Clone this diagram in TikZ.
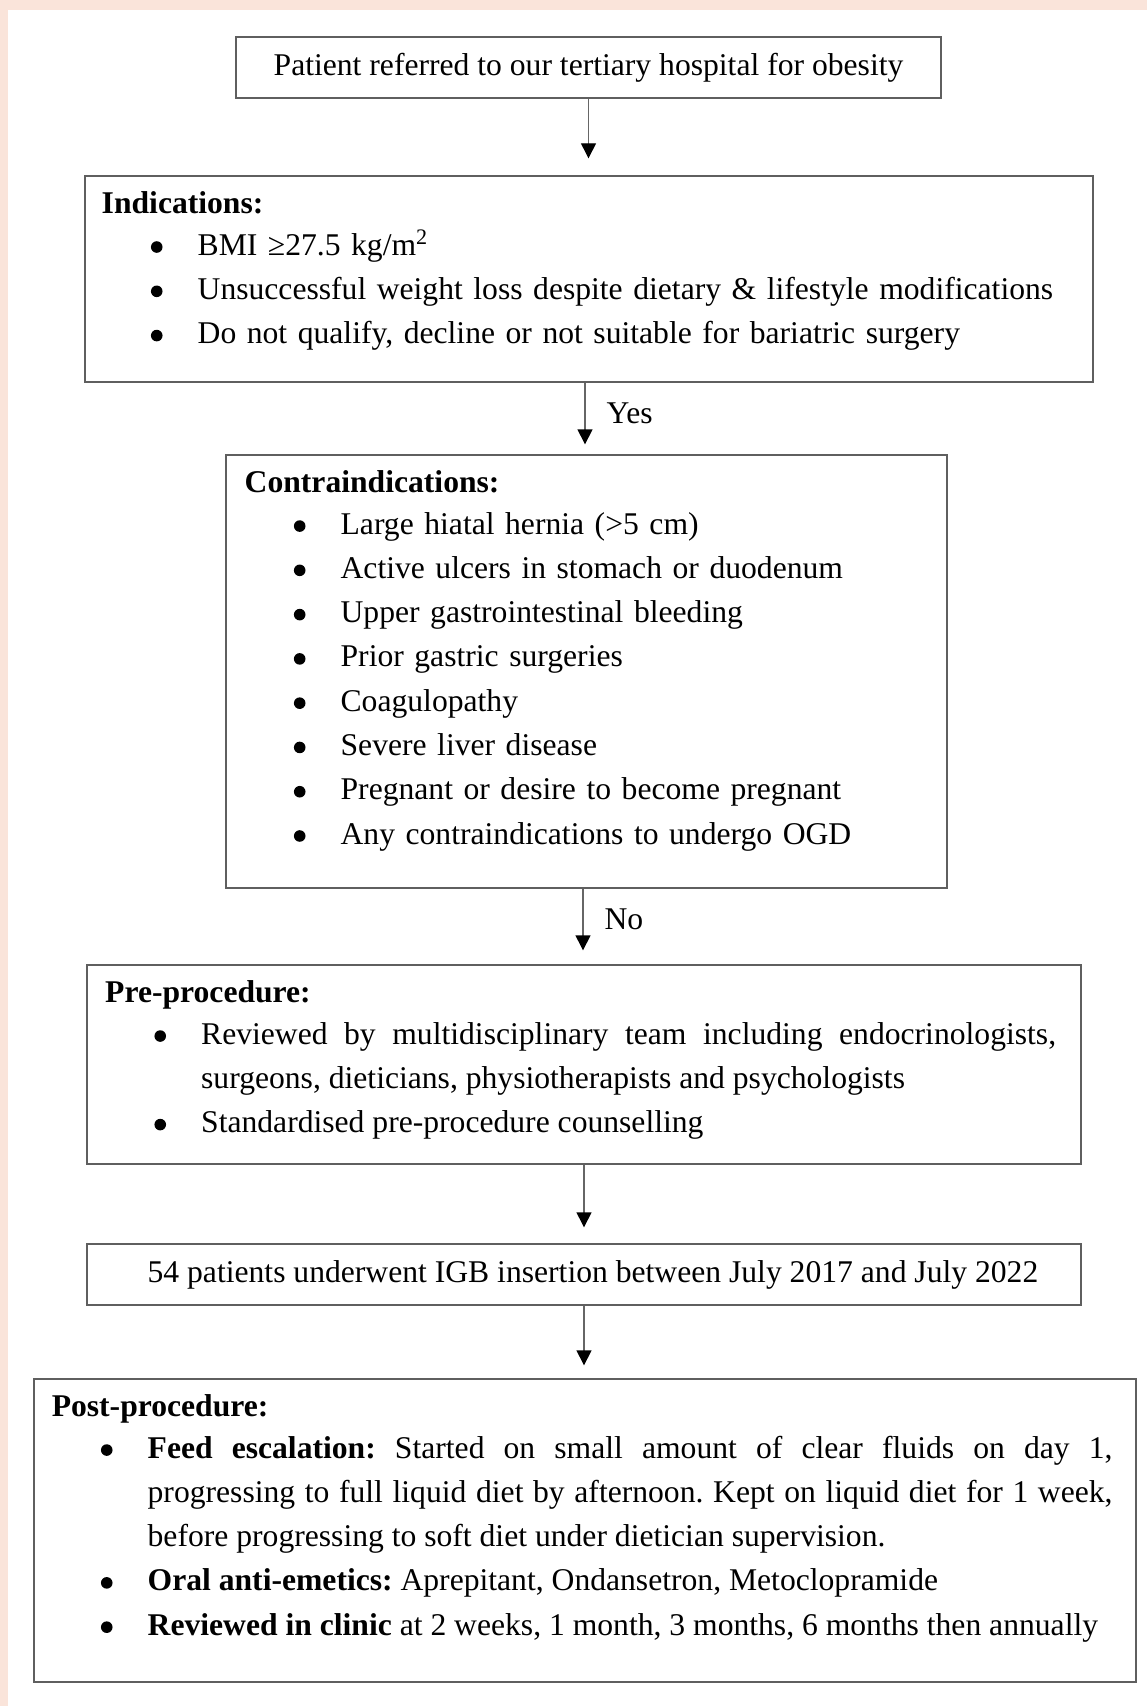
\documentclass[tikz,border=0pt]{standalone}
\usepackage{fontspec}
\setmainfont{Liberation Serif}
\usetikzlibrary{arrows.meta,positioning}

\definecolor{pagepink}{RGB}{250,228,218}
\definecolor{boxgray}{RGB}{95,95,95}
\newcommand{\bodyfont}{\fontsize{18}{25.2}\selectfont\frenchspacing}
\newlength\itemhang
\setlength\itemhang{54.6pt}
\newcommand{\bulletdot}{\tikz[baseline=0pt,x=1pt,y=1pt]\fill (0,4.6) circle (3.3);}
\newcommand{\boxhead}[1]{\noindent\strut\textbf{#1}\par\vspace{-1.6pt}}
\newcommand{\bitem}[1]{\par\noindent\hangindent=\itemhang\hangafter=1\makebox[\itemhang][l]{\hspace{28pt}\bulletdot}#1}

\tikzset{
  box/.style={rectangle,draw=boxgray,line width=0.8pt,inner sep=0pt,font=\bodyfont,text=black},
  content/.style={anchor=north west,inner sep=0pt,align=left,font=\bodyfont,text=black},
  arr/.style={-{Triangle[width=8.5pt,length=8.5pt,color=black]},line width=0.7pt,draw=black!60},
  answer/.style={right,inner sep=0pt,xshift=0.42cm,font=\bodyfont,text=black}
}

\begin{document}
\begin{tikzpicture}[x=0.02cm,y=-0.02cm]
        % page background
\fill[pagepink] (0,0) rectangle (1147,1706);
\fill[white] (8,10) rectangle (1147,1706);
\useasboundingbox (0,0) rectangle (1147,1706);

        % boxes
\node[box,minimum width=14.1cm,minimum height=1.22cm] (refer) at (588.5,67.5) {Patient referred to our tertiary hospital for obesity};
\node[box,minimum width=20.16cm,minimum height=4.12cm] (indic) at (589,279) {};
\node[box,minimum width=14.42cm,minimum height=8.66cm] (contra) at (586.5,671.5) {};
\node[box,minimum width=19.88cm,minimum height=3.98cm] (pre) at (584,1064.5) {};
\node[box,minimum width=19.88cm,minimum height=1.22cm] (igb) at (584,1274.5) {\hspace*{0.36cm}54 patients underwent IGB insertion between July 2017 and July 2022};
\node[box,minimum width=22.04cm,minimum height=6.06cm] (post) at (585,1530.5) {};

        % box contents
\node[content,text width=19.6cm] (indictext) at ([xshift=0.34cm,yshift=-0.14cm]indic.north west) {%
\boxhead{Indications:}
\bitem{BMI \char"2265 27.5 kg/m\textsuperscript{2}}
\bitem{Unsuccessful weight loss despite dietary \& lifestyle modifications}
\bitem{Do not qualify, decline or not suitable for bariatric surgery}};

\node[content,text width=13.84cm] (contratext) at ([xshift=0.38cm,yshift=-0.14cm]contra.north west) {%
\boxhead{Contraindications:}
\bitem{Large hiatal hernia (>5 cm)}
\bitem{Active ulcers in stomach or duodenum}
\bitem{Upper gastrointestinal bleeding}
\bitem{Prior gastric surgeries}
\bitem{Coagulopathy}
\bitem{Severe liver disease}
\bitem{Pregnant or desire to become pregnant}
\bitem{Any contraindications to undergo OGD}};

\node[content,align=justify,text width=19.02cm] (pretext) at ([xshift=0.37cm,yshift=-0.14cm]pre.north west) {%
\boxhead{Pre-procedure:}
\bitem{Reviewed by multidisciplinary team including endocrinologists,\linebreak surgeons, dieticians, physiotherapists and psychologists}
\bitem{Standardised pre-procedure counselling}};

\node[content,align=justify,text width=21.22cm] (posttext) at ([xshift=0.36cm,yshift=-0.14cm]post.north west) {%
\boxhead{Post-procedure:}
\bitem{\textbf{Feed escalation:} Started on small amount of clear fluids on day 1,\linebreak progressing to full liquid diet by afternoon. Kept on liquid diet for 1 week,\linebreak before progressing to soft diet under dietician supervision.}
\bitem{\textbf{Oral anti-emetics:} Aprepitant, Ondansetron, Metoclopramide}
\bitem{\textbf{Reviewed in clinic} at 2 weeks, 1 month, 3 months, 6 months then annually}};

        % connectors
\draw[arr] (refer.south) -- ([yshift=0.34cm]refer.south |- indic.north);
\draw[arr] ([xshift=-0.08cm]indic.south) -- ([xshift=-0.08cm,yshift=0.2cm]indic.south |- contra.north) node[answer,midway] {Yes};
\draw[arr] ([xshift=-0.07cm]contra.south) -- ([xshift=-0.07cm,yshift=0.28cm]contra.south |- pre.north) node[answer,midway] {No};
\draw[arr] (pre.south) -- ([yshift=0.32cm]pre.south |- igb.north);
\draw[arr] (igb.south) -- ([yshift=0.26cm]igb.south |- post.north);
\end{tikzpicture}
\end{document}
